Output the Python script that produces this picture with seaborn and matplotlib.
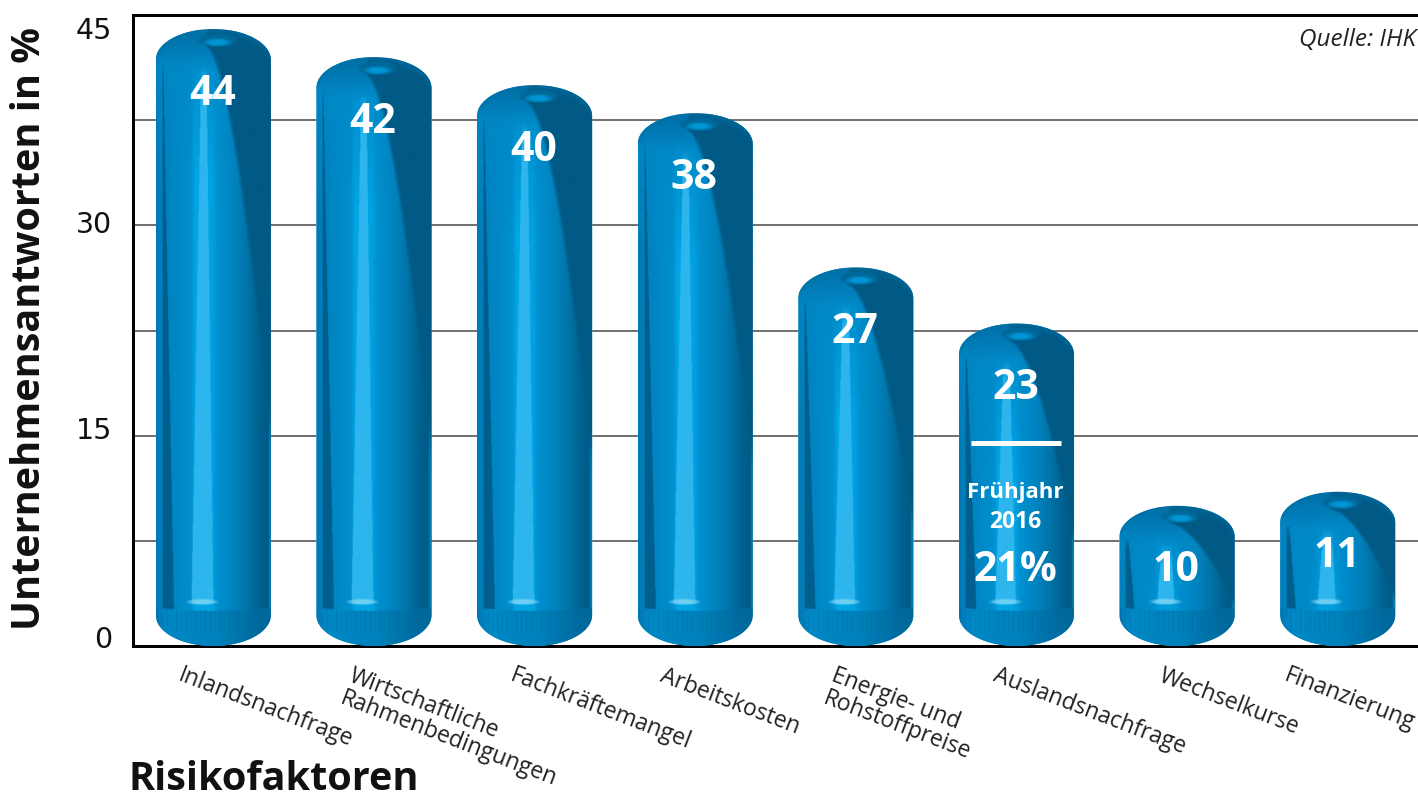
import numpy as np
import pandas as pd
import matplotlib
matplotlib.use("Agg")
import matplotlib.pyplot as plt
from matplotlib.colors import to_rgb
from matplotlib.patches import PathPatch
from matplotlib.path import Path
from matplotlib.transforms import ScaledTranslation
import seaborn as sns

categories = ["Inlandsnachfrage", "Wirtschaftliche\nRahmenbedingungen", "Fachkräftemangel",
              "Arbeitskosten", "Energie- und\nRohstoffpreise", "Auslandsnachfrage",
              "Wechselkurse", "Finanzierung"]
values = [44, 42, 40, 38, 27, 23, 10, 11]
y_labels = [0, 15, 30, 45]
grid_levels = [7.5, 22.5, 37.5]

# pixel nudges, the original labels were placed by hand
label_dx = [-30, -20, -19, -30, -19, -18, -13, -48]
ytick_dy = {0: 9, 15: 8, 30: 3, 45: -13}

PX = 72 / 100  # points per pixel at dpi 100
CAP = 31  # px height of the rounded ends


def profile(u, stops):
    pos = [s[0] for s in stops]
    rgb = np.array([to_rgb(s[1]) for s in stops])
    return np.stack([np.interp(u, pos, rgb[:, i]) for i in range(3)], axis=-1)


def blend(img, mask, color):
    mask = np.clip(mask, 0, 1)[..., None]
    return img * (1 - mask) + np.array(to_rgb(color)) * mask


def shade(H, W=115, scale=2):
    nx, ny = W * scale, int(H * scale)
    U, T = np.meshgrid(np.linspace(0, 1, nx), np.linspace(0, H, ny))
    f = np.clip(T / H, 0, 1)
    fp = np.clip((T - 18) / (H - 18), 0, 1)

    img = profile(U, [(0, "#0078b2"), (.05, "#0080bc"), (.30, "#008fce"), (.34, "#00a6e6"),
                      (.48, "#00a2e2"), (.53, "#0090d0"), (.70, "#0080ba"), (.90, "#00628f"),
                      (.97, "#005a85"), (.985, "#0088c0"), (1, "#005f90")])

    # the bright band dies away towards the top of the tall bars
    fade = np.clip((150 - T) / 110, 0, 1) * (U < .62) * .75
    img = blend(img, fade, "#0088c6")

    # dark wedge low on the left
    edge = .055 + .105 * f
    img = blend(img, (U > .055) & (U < edge) & (T > 35) & (T < H - 36), "#005f8e")

    # highlight strip
    left = .395 - .095 * f
    right = .43 + .07 * f
    img = blend(img, ((U > left) & (U < right) & (T < H - 42)) * np.clip((T - 36) / 25, 0, 1), "#2db5ee")
    glow = ((U - .40) * W / 15) ** 2 + ((T - (H - 44)) / 3) ** 2
    img = blend(img, 1.3 - glow, "#6fd0f2")

    # top cap, left side goes smoothly into the body
    side = 1 - (2 * U - 1) ** 2
    rim = CAP * (1 - np.sqrt(np.clip(side, 0, 1)))
    left_cap = profile(np.clip(T / 46, 0, 1), [(0, "#0070a6"), (.5, "#007db8"), (1, "#0088c6")])
    m = np.clip((46 - T) / 22, 0, 1)[..., None]
    img = img * (1 - m) + left_cap * m

    # big dark shape on the right, starts at the cap centre
    ub = .42 + .72 * fp ** .6
    img = blend(img, (U - ub) * 30, "#005a85")

    img = blend(img, (8 - (T - rim)) / 8 * (T < CAP + 6) * .6, "#0070a6")
    hole = ((U - .53) * W / 21) ** 2 + ((T - 11) / 7) ** 2
    img = blend(img, (1 - hole) * 3, "#00689a")
    hole2 = ((U - .53) * W / 15) ** 2 + ((T - 13) / 4.5) ** 2
    img = blend(img, (1 - hole2) * 1.2, "#0096d6")

    # bottom collar with its small ribs
    collar = T > H - 38 + 3 * np.sin(np.pi * U)
    low = profile(U, [(0, "#0078b4"), (.1, "#0088c6"), (.5, "#0082bc"), (.9, "#006a9f"), (1, "#006a9a")])
    img[collar] = low[collar]
    ribs = (np.sin(U * 2 * np.pi * 24) > .86) & collar & (T < H - 14)
    img = blend(img, ribs * .3, "#005f8e")
    return img


def capsule(x0, x1, h, yscale):
    b = CAP / yscale
    a = np.linspace(np.pi, 0, 60)
    cx, rx = (x0 + x1) / 2, (x1 - x0) / 2
    top = np.c_[cx + rx * np.cos(a), h - b + b * np.sin(a)]
    bot = np.c_[cx + rx * np.cos(a[::-1]), b - b * np.sin(a[::-1])]
    pts = np.vstack([top, bot, top[:1]])
    return Path(pts, closed=True)


df = pd.DataFrame({"Risikofaktor": categories, "Anteil": values})

sns.set_theme(style="white")
plt.rcParams["font.family"] = ["Open Sans", "DejaVu Sans"]

fig = plt.figure(figsize=(14.18, 7.97), dpi=100)
ax = fig.add_axes([133 / 1418, (797 - 646) / 797, 1285 / 1418, 631 / 797])

sns.barplot(data=df, x="Risikofaktor", y="Anteil", color="#0082bc", width=0.717,
            saturation=1, ax=ax, zorder=3)

ax.set_xlim(-0.5, 7.5)
ax.set_ylim(0, 45)
yscale = 631 / 45

for patch, val in zip(ax.patches, values):
    x0, w = patch.get_x(), patch.get_width()
    outline = PathPatch(capsule(x0, x0 + w, val, yscale), transform=ax.transData,
                        fc="none", ec="none")
    ax.add_patch(outline)
    patch.set_clip_path(outline)
    im = ax.imshow(shade(val * yscale), extent=(x0, x0 + w, 0, val), origin="upper",
                   aspect="auto", interpolation="bilinear", zorder=3.1)
    im.set_clip_path(outline)
    ax.annotate(str(val), (x0 + w / 2, val), xytext=(-1 * PX, -65 * PX), textcoords="offset points",
                ha="center", va="center", color="white", fontsize=29.5, fontweight="bold",
                zorder=5)

ax.set_xlim(-0.5, 7.5)
ax.set_ylim(0, 45)

# previous survey note inside the Auslandsnachfrage bar
i_aus = categories.index("Auslandsnachfrage")
ax.plot([i_aus - 0.285, i_aus + 0.275], [14.47, 14.47], color="white", lw=5 * PX,
        solid_capstyle="butt", zorder=5)
ax.text(i_aus - 0.005, 10.95, "Frühjahr", color="white", fontsize=16, fontweight="bold",
        ha="center", va="center", zorder=5)
ax.text(i_aus - 0.005, 8.85, "2016", color="white", fontsize=16.5, fontweight="bold",
        ha="center", va="center", zorder=5)
ax.text(i_aus - 0.005, 5.4, "21%", color="white", fontsize=29.5, fontweight="bold",
        ha="center", va="center", zorder=5)

ax.set_yticks(y_labels)
ax.set_yticks(grid_levels, minor=True)
ax.yaxis.grid(True, which="both", color="#444444", lw=1.5 * PX, zorder=1)
ax.set_axisbelow(True)
ax.tick_params(axis="y", which="both", length=0, pad=21 * PX)
for lab, tick in zip(ax.get_yticklabels(), y_labels):
    lab.set_fontfamily("DejaVu Sans")
    lab.set_fontsize(20.5)
    lab.set_color("#111111")
    lab.set_transform(lab.get_transform() + ScaledTranslation(0, ytick_dy[tick] * PX / 72, fig.dpi_scale_trans))

ax.set_xticks(range(len(categories)))
ax.set_xticklabels(categories, rotation=-21, ha="left", va="top", rotation_mode="anchor",
                   fontsize=16.5, color="#222222", linespacing=1.0)
ax.tick_params(axis="x", length=0, pad=18 * PX)
for lab, dx in zip(ax.get_xticklabels(), label_dx):
    lab.set_transform(lab.get_transform() + ScaledTranslation(dx * PX / 72, 0, fig.dpi_scale_trans))

for side in ["left", "top", "bottom"]:
    ax.spines[side].set_visible(True)
    ax.spines[side].set_color("black")
    ax.spines[side].set_linewidth(3 * PX)
ax.spines["right"].set_visible(False)

ax.set_ylabel("Unternehmensantworten in %", fontsize=28.5, fontweight="bold", color="#111111")
ax.yaxis.set_label_coords((49 - 133) / 1285, (646 - 328) / 631)
ax.set_xlabel("Risikofaktoren", fontsize=28.5, fontweight="bold", color="#111111", ha="left")
ax.xaxis.set_label_coords(-5 / 1285, -(779 - 646) / 631)
ax.xaxis.label.set_va("center")

ax.text(0.9985, 0.96, "Quelle: IHK", transform=ax.transAxes, ha="right", va="center",
        fontsize=17.5, fontstyle="italic", color="#222222", zorder=5)

fig.savefig("out.png", dpi=100)
